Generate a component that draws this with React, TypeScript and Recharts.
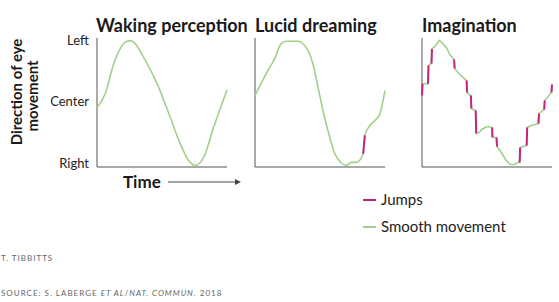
import { LineChart, Line, XAxis, YAxis, ReferenceLine } from 'recharts';

// Time is 0-100 in every panel; direction: 1 = Left, 0 = Center, -1 = Right
const wakingTime = [0, 6.4, 12.8, 17.9, 21.5, 25.6, 29, 35.8, 46.2, 56.4, 64.1, 70.5, 75.6, 79, 82, 89.7, 100];
const wakingDir = [-0.1, 0.13, 0.61, 0.86, 0.96, 0.99, 0.95, 0.72, 0.29, -0.26, -0.69, -0.96, -1.04, -1.0, -0.91, -0.42, 0.19];

const lucidTime = [0, 4.6, 9.8, 15, 20.1, 24, 33, 40.7, 44.6, 48.5, 52.3, 57.5, 61.4, 66.5, 70.3, 74.2, 78, 83.2, 84.5, 88.4, 92.3, 96.1, 100];
const lucidDir = [0.1, 0.29, 0.5, 0.69, 0.94, 0.98, 0.98, 0.83, 0.61, 0.23, -0.15, -0.58, -0.85, -1.0, -1.04, -0.99, -0.99, -0.85, -0.55, -0.39, -0.31, -0.2, 0.18];
const lucidIsJump = [0, 0, 0, 0, 0, 0, 0, 0, 0, 0, 0, 0, 0, 0, 0, 0, 0, 1, 1, 0, 0, 0, 0];

const imagTime = [
  0, 0.4, 4.25, 4.6, 5.0, 6.9, 7.3, 7.65, 10.6, 13.3, 16, 19.1, 21.4, 24.5, 24.7, 25.1, 27.6, 30.7, 34.3, 34.7,
  37.2, 37.6, 38.0, 40.9, 41.3, 41.7, 43.8, 46.1, 48.5, 50.8, 53.5, 53.9, 54.2, 57.0, 57.3, 57.7, 60.0, 62.4, 64.7, 67.8,
  70.9, 74.0, 75.1, 75.5, 77.8, 80.1, 80.5, 80.9, 84.0, 87.1, 88.8, 89.6, 90.0, 91.7, 92.9, 94.0, 94.4, 97.1, 99.2, 99.6, 100,
];
const imagDir = [
  0.098, 0.288, 0.288, 0.288, 0.585, 0.618, 0.618, 0.854, 0.911, 0.992, 0.943, 0.862, 0.764, 0.683, 0.683, 0.537, 0.472, 0.407, 0.341, 0.146,
  0.098, 0.098, -0.114, -0.146, -0.146, -0.52, -0.504, -0.455, -0.423, -0.407, -0.423, -0.423, -0.58, -0.585, -0.585, -0.732, -0.797, -0.878, -0.959, -1.024,
  -1.024, -0.992, -0.992, -0.748, -0.732, -0.715, -0.715, -0.423, -0.39, -0.374, -0.36, -0.358, -0.195, -0.163, -0.145, -0.13, 0.016, 0.081, 0.146, 0.146, 0.276,
];
const imagIsJump = [
  1, 1, 0, 1, 1, 0, 1, 1, 0, 0, 0, 0, 0, 0, 1, 1, 0, 0, 1, 1,
  0, 1, 1, 0, 1, 1, 0, 0, 0, 0, 0, 1, 1, 0, 1, 1, 0, 0, 0, 0,
  0, 0, 1, 1, 0, 0, 1, 1, 0, 0, 0, 1, 1, 0, 0, 1, 1, 0, 0, 1, 1,
];

const directionTicks = [1, 0, -1];
const directionLabels: Record<number, string> = { 1: 'Left', 0: 'Center', '-1': 'Right' };
const Y_DOMAIN: [number, number] = [-1.065, 1.0325];

const GREEN = '#a2d08a';
const MAGENTA = '#c8237c';
const AXIS = '#555';
const FONT = 'Lato, "Open Sans", sans-serif';

function buildRows(time: number[], dir: number[], isJump?: number[]) {
  return time.map((t, i) => ({
    t,
    smooth: dir[i],
    jump: isJump && isJump[i] ? dir[i] : null,
  }));
}

interface PanelProps {
  rows: any[];
  left: number;
  showTicks?: boolean;
  curve: 'monotone' | 'linear';
}

function Panel({ rows, left, showTicks, curve }: PanelProps) {
  const yWidth = showTicks ? 60 : 1;
  const width = 140 + yWidth;
  return (
    <div style={{ position: 'absolute', left: left - yWidth - 5, top: 0 }}>
      <LineChart width={width} height={175} data={rows} margin={{ top: 38, right: 5, bottom: 7, left: 5 }}>
        <XAxis dataKey="t" type="number" domain={[0, 100]} tick={false} tickLine={false} axisLine={false} height={1} />
        <YAxis
          type="number"
          domain={Y_DOMAIN}
          allowDataOverflow
          ticks={directionTicks}
          tick={showTicks ? { fontSize: 13, fill: '#222', fontFamily: FONT } : false}
          tickFormatter={(v: number) => directionLabels[v]}
          tickLine={false}
          axisLine={false}
          width={yWidth}
        />
        {/* axis frame: left edge and bottom edge of the plot */}
        <ReferenceLine x={0} stroke={AXIS} strokeWidth={1} />
        <ReferenceLine y={Y_DOMAIN[0]} stroke={AXIS} strokeWidth={1} />
        <Line type={curve} dataKey="smooth" stroke={GREEN} strokeWidth={1.6} dot={false} isAnimationActive={false} />
        <Line type="linear" dataKey="jump" stroke={MAGENTA} strokeWidth={2} dot={false} connectNulls={false} isAnimationActive={false} />
      </LineChart>
    </div>
  );
}

const titleStyle: React.CSSProperties = {
  position: 'absolute',
  top: 14,
  fontFamily: FONT,
  fontWeight: 700,
  fontSize: 18,
  color: '#1a1a1a',
  lineHeight: '22px',
  whiteSpace: 'nowrap',
};

export default function App() {
  const waking = buildRows(wakingTime, wakingDir);
  const lucid = buildRows(lucidTime, lucidDir, lucidIsJump);
  const imag = buildRows(imagTime, imagDir, imagIsJump);

  return (
    <div style={{ position: 'absolute', left: 0, top: 0, width: 559, height: 302, background: '#fff', overflow: 'hidden', fontFamily: FONT }}>
      <Panel rows={waking} left={97} showTicks curve="monotone" />
      <Panel rows={lucid} left={255} curve="monotone" />
      <Panel rows={imag} left={422} curve="linear" />

      <div style={{ ...titleStyle, left: 96 }}>Waking perception</div>
      <div style={{ ...titleStyle, left: 255 }}>Lucid dreaming</div>
      <div style={{ ...titleStyle, left: 422 }}>Imagination</div>

      <svg width={559} height={302} style={{ position: 'absolute', left: 0, top: 0, pointerEvents: 'none' }}>
        <text transform="translate(22,92) rotate(-90)" textAnchor="middle" fontFamily={FONT} fontWeight={700} fontSize={15} fill="#1a1a1a">
          Direction of eye
        </text>
        <text transform="translate(38,96) rotate(-90)" textAnchor="middle" fontFamily={FONT} fontWeight={700} fontSize={15} fill="#1a1a1a">
          movement
        </text>
        <text x={123} y={188} fontFamily={FONT} fontWeight={700} fontSize={17} fill="#1a1a1a">Time</text>
        <line x1={168} y1={182} x2={237} y2={182} stroke="#444" strokeWidth={1} />
        <path d="M235,179 L241,182 L235,185 Z" fill="#444" />
        <line x1={363} y1={200} x2={376} y2={200} stroke={MAGENTA} strokeWidth={2} />
        <text x={381} y={205} fontFamily={FONT} fontSize={15} fill="#222">Jumps</text>
        <line x1={363} y1={227} x2={376} y2={227} stroke={GREEN} strokeWidth={2} />
        <text x={381} y={232} fontFamily={FONT} fontSize={15} fill="#222">Smooth movement</text>
        <text x={1} y={261} fontFamily={FONT} fontSize={8} letterSpacing={1} fill="#666">T. TIBBITTS</text>
        <text x={1} y={296} fontFamily={FONT} fontSize={8} letterSpacing={1} fill="#666">
          SOURCE: S. LABERGE <tspan fontStyle="italic">ET AL</tspan>/<tspan fontStyle="italic">NAT. COMMUN.</tspan> 2018
        </text>
      </svg>
    </div>
  );
}
